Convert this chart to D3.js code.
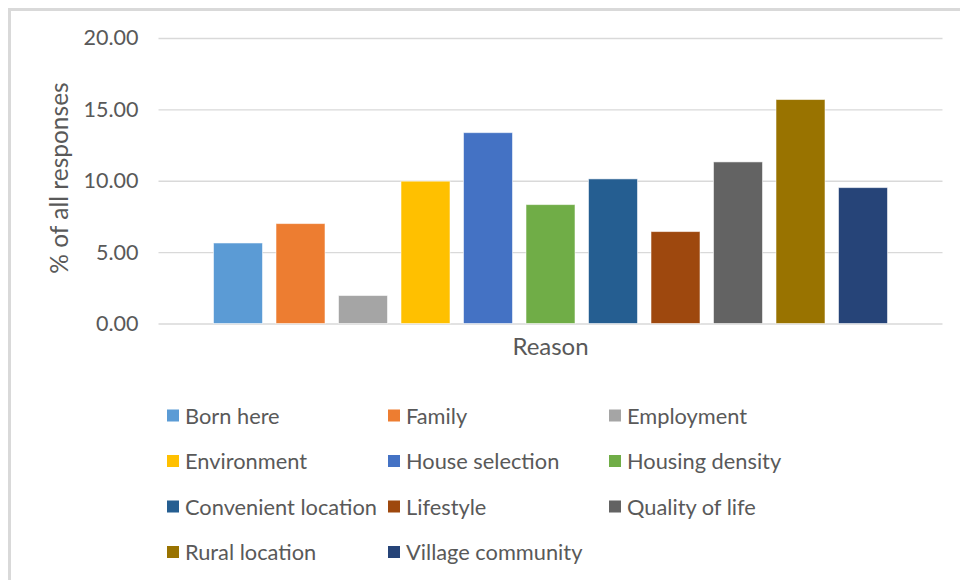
<!DOCTYPE html>
<html>
<head>
<meta charset="utf-8">
<script src="https://cdn.jsdelivr.net/npm/d3@7"></script>
<style>
  html, body { margin: 0; padding: 0; background: #fff; }
  svg { display: block; font-family: Lato, "Open Sans", sans-serif; }
</style>
</head>
<body>
<svg id="chart" width="960" height="580"></svg>
<script>
// Reasons for living in the village, share of all responses (%)
const reasons = [
  "Born here", "Family", "Employment", "Environment", "House selection",
  "Housing density", "Convenient location", "Lifestyle", "Quality of life",
  "Rural location", "Village community"
];
const values = [5.64, 7.00, 1.96, 9.97, 13.37, 8.33, 10.13, 6.44, 11.32, 15.69, 9.52];
const colors = [
  "#5b9bd5", "#ed7d31", "#a5a5a5", "#ffc000", "#4472c4", "#70ad47",
  "#255e91", "#9e480e", "#636363", "#997300", "#264478"
];
const yTicks = [0, 5, 10, 15, 20];
const xTitle = "Reason";
const yTitle = "% of all responses";

const svg = d3.select("#chart");

// outer chart frame
svg.append("rect")
  .attr("x", 9.5).attr("y", 9.5)
  .attr("width", 980).attr("height", 600)
  .attr("fill", "#fff")
  .attr("stroke", "#d9d9d9").attr("stroke-width", 3);

const plot = { left: 158.5, right: 942.5, top: 38, bottom: 323.5 };

const y = d3.scaleLinear().domain([0, 20]).range([plot.bottom, plot.top]);
const x = d3.scaleBand()
  .domain(reasons)
  .range([plot.left, plot.right])
  .paddingInner(0.216)
  .paddingOuter(0.88);

// gridlines and tick labels
const yAxis = d3.axisLeft(y)
  .tickValues(yTicks)
  .tickSize(-(plot.right - plot.left))
  .tickPadding(20)
  .tickFormat(d3.format(".2f"));

const gy = svg.append("g")
  .attr("transform", `translate(${plot.left},0)`)
  .call(yAxis);
gy.select(".domain").remove();
gy.selectAll(".tick line").attr("stroke", "#d9d9d9").attr("stroke-width", 1.3);
gy.selectAll(".tick text")
  .attr("fill", "#595959")
  .attr("font-size", 21.5)
  .attr("font-family", "Lato, sans-serif");

// bars
svg.append("g").selectAll("rect")
  .data(reasons)
  .join("rect")
  .attr("x", d => x(d))
  .attr("width", x.bandwidth())
  .attr("y", (d, i) => y(values[i]))
  .attr("height", (d, i) => y(0) - y(values[i]))
  .attr("fill", (d, i) => colors[i])
  .attr("stroke", "#ffffff").attr("stroke-opacity", 0.55).attr("stroke-width", 1);

// axis titles
svg.append("text")
  .attr("x", (plot.left + plot.right) / 2)
  .attr("y", 355)
  .attr("text-anchor", "middle")
  .attr("fill", "#595959")
  .attr("font-size", 24)
  .text(xTitle);

svg.append("text")
  .attr("transform", "translate(68,178) rotate(-90)")
  .attr("text-anchor", "middle")
  .attr("fill", "#595959")
  .attr("font-size", 24.5)
  .text(yTitle);

// legend: three columns, row by row
const legend = svg.append("g");
const colX = [167, 388, 609];
const rowY = [416, 461.5, 507, 552.5];
const items = legend.selectAll("g")
  .data(reasons)
  .join("g")
  .attr("transform", (d, i) => `translate(${colX[i % 3]},${rowY[Math.floor(i / 3)]})`);
items.append("rect")
  .attr("x", 0).attr("y", -6.5)
  .attr("width", 12).attr("height", 12)
  .attr("fill", (d, i) => colors[i]);
items.append("text")
  .attr("x", 18).attr("y", 0)
  .attr("dy", "0.35em")
  .attr("fill", "#595959")
  .attr("font-size", 21.8)
  .text(d => d);
</script>
</body>
</html>
